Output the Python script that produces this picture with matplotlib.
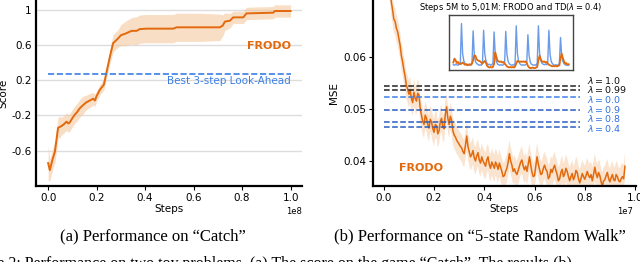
import numpy as np
import matplotlib
matplotlib.use("Agg")
import matplotlib.pyplot as plt

# --- datos panel (a): Catch ---
catch_steps = [0, 0.007, 0.018, 0.028, 0.041, 0.048, 0.055, 0.065, 0.076, 0.083,
               0.089, 0.1, 0.11, 0.12, 0.13, 0.145, 0.158, 0.172, 0.186, 0.193,
               0.2, 0.213, 0.23, 0.24, 0.255, 0.268, 0.289, 0.30, 0.32, 0.344,
               0.365, 0.378, 0.406, 0.46, 0.516, 0.53, 0.626, 0.708, 0.72, 0.729,
               0.75, 0.763, 0.805, 0.818, 0.928, 0.935, 1.0]
catch_score = [-0.74, -0.82, -0.70, -0.61, -0.34, -0.33, -0.32, -0.30, -0.27, -0.29,
               -0.28, -0.23, -0.19, -0.16, -0.12, -0.08, -0.05, -0.03, -0.01, -0.03,
               0.02, 0.09, 0.15, 0.28, 0.47, 0.62, 0.675, 0.71, 0.73, 0.76,
               0.76, 0.78, 0.785, 0.785, 0.785, 0.80, 0.80, 0.80, 0.82, 0.865,
               0.875, 0.913, 0.913, 0.958, 0.966, 0.985, 0.985]
catch_spread = [0.2, 0.12, 0.12, 0.12, 0.12, 0.12, 0.1, 0.1, 0.1, 0.1,
                0.1, 0.1, 0.1, 0.1, 0.1, 0.1, 0.08, 0.08, 0.07, 0.07,
                0.06, 0.06, 0.06, 0.06, 0.08, 0.1, 0.1, 0.12, 0.14, 0.15,
                0.16, 0.16, 0.16, 0.16, 0.16, 0.16, 0.16, 0.15, 0.12, 0.1,
                0.08, 0.07, 0.07, 0.07, 0.07, 0.07, 0.07]
lookahead_score = 0.268

# --- datos panel (b): 5-state Random Walk (pasos en unidades de 1e7, cada 0.005) ---
rw_mse = [0.0880, 0.0850, 0.0820, 0.0790, 0.0760, 0.0730, 0.0705, 0.0690, 0.0672, 0.0668,
          0.0655, 0.0648, 0.0635, 0.0622, 0.0602, 0.0590, 0.0575, 0.0562, 0.0545, 0.0538,
          0.0528, 0.0536, 0.0520, 0.0512, 0.0532, 0.0520, 0.0515, 0.0530, 0.0527, 0.0500,
          0.0488, 0.0476, 0.0470, 0.0488, 0.0482, 0.0470, 0.0463, 0.0480, 0.0475, 0.0462,
          0.0455, 0.0470, 0.0468, 0.0452, 0.0458, 0.0476, 0.0482, 0.0465, 0.0462, 0.0490,
          0.0504, 0.0482, 0.0470, 0.0486, 0.0478, 0.0458, 0.0450, 0.0446, 0.0440, 0.0436,
          0.0432, 0.0428, 0.0425, 0.0418, 0.0414, 0.0430, 0.0448, 0.0428, 0.0418, 0.0408,
          0.0412, 0.0420, 0.0406, 0.0400, 0.0410, 0.0416, 0.0402, 0.0396, 0.0408, 0.0400,
          0.0395, 0.0390, 0.0402, 0.0408, 0.0393, 0.0386, 0.0398, 0.0392, 0.0386, 0.0398,
          0.0392, 0.0384, 0.0396, 0.0388, 0.0380, 0.0370, 0.0372, 0.0380, 0.0386, 0.0398,
          0.0414, 0.0400, 0.0392, 0.0380, 0.0385, 0.0378, 0.0374, 0.0382, 0.0390, 0.0398,
          0.0402, 0.0390, 0.0383, 0.0390, 0.0380, 0.0394, 0.0408, 0.0392, 0.0378, 0.0370,
          0.0372, 0.0390, 0.0408, 0.0394, 0.0384, 0.0374, 0.0376, 0.0386, 0.0392, 0.0384,
          0.0380, 0.0366, 0.0370, 0.0384, 0.0378, 0.0386, 0.0392, 0.0382, 0.0374, 0.0362,
          0.0366, 0.0378, 0.0384, 0.0370, 0.0375, 0.0386, 0.0380, 0.0370, 0.0362, 0.0370,
          0.0376, 0.0364, 0.0370, 0.0382, 0.0378, 0.0366, 0.0358, 0.0366, 0.0376, 0.0370,
          0.0365, 0.0372, 0.0380, 0.0372, 0.0368, 0.0374, 0.0362, 0.0374, 0.0388, 0.0376,
          0.0368, 0.0378, 0.0372, 0.0360, 0.0352, 0.0362, 0.0364, 0.0372, 0.0378, 0.0366,
          0.0360, 0.0368, 0.0374, 0.0364, 0.0362, 0.0374, 0.0370, 0.0362, 0.0360, 0.0366,
          0.0370, 0.0366, 0.0390]
rw_steps = [i * 0.005 for i in range(len(rw_mse))]
rw_spread = 0.0026

td_labels = [r"$\lambda = 1.0$", r"$\lambda = 0.99$", r"$\lambda = 0.0$",
             r"$\lambda = 0.9$", r"$\lambda = 0.8$", r"$\lambda = 0.4$"]
td_mse = [0.0543, 0.0537, 0.05225, 0.04975, 0.04754, 0.04648]
td_colors = ["#222222", "#222222", "#3f80e8", "#2a5cc0", "#2a5cc0", "#2a5cc0"]
td_text_colors = ["#111111", "#111111", "#2f72e0", "#2f72e0", "#2f72e0", "#2f72e0"]
td_label_y = [0.05552, 0.05365, 0.05183, 0.04990, 0.04807, 0.04620]

# --- inset: pasos 5M a 5,01M ---
inset_td = [0.10, 0.09, 0.11, 0.10, 0.09, 0.11, 0.13,
            0.84, 0.30, 0.17, 0.12, 0.10, 0.11, 0.09, 0.10, 0.09, 0.12,
            0.71, 0.28, 0.16, 0.12, 0.11, 0.09, 0.10, 0.09, 0.12,
            0.72, 0.30, 0.17, 0.12, 0.10, 0.11, 0.09, 0.10, 0.13,
            0.69, 0.28, 0.16, 0.11, 0.10, 0.09, 0.10, 0.09, 0.10, 0.12,
            0.70, 0.29, 0.16, 0.12, 0.10, 0.09, 0.10, 0.09, 0.13,
            0.80, 0.30, 0.17, 0.12, 0.10, 0.09, 0.10, 0.09, 0.10, 0.12,
            0.64, 0.27, 0.15, 0.11, 0.10, 0.09, 0.10, 0.09, 0.13,
            0.80, 0.31, 0.18, 0.13, 0.11, 0.10, 0.11, 0.10, 0.13,
            0.72, 0.29, 0.16, 0.12, 0.10, 0.09, 0.10, 0.09, 0.10, 0.12,
            0.59, 0.26, 0.16, 0.12, 0.10, 0.09, 0.10, 0.09]
inset_frodo = [0.14, 0.21, 0.18, 0.13, 0.15, 0.12, 0.11,
               0.12, 0.14, 0.12, 0.10, 0.11, 0.09, 0.10, 0.11,
               0.10, 0.12, 0.18, 0.27, 0.26, 0.20, 0.18, 0.17, 0.16, 0.14, 0.12,
               0.15, 0.17, 0.13, 0.08, 0.06, 0.05, 0.06, 0.05, 0.06,
               0.12, 0.32, 0.24, 0.17, 0.16, 0.15, 0.16, 0.14, 0.15, 0.12,
               0.10, 0.07, 0.06, 0.05, 0.06, 0.05, 0.06, 0.05, 0.07,
               0.12, 0.17, 0.16, 0.15, 0.16, 0.15, 0.16, 0.15, 0.16, 0.13,
               0.08, 0.05, 0.04, 0.04, 0.05, 0.04, 0.04, 0.05, 0.06,
               0.18, 0.26, 0.20, 0.16, 0.15, 0.16, 0.14, 0.15, 0.12,
               0.10, 0.09, 0.08, 0.07, 0.08, 0.07, 0.08, 0.07, 0.08, 0.09,
               0.22, 0.30, 0.22, 0.16, 0.12, 0.13, 0.10, 0.11]

ORANGE = "#e2690c"
BAND = "#f6c8a0"
BLUE = "#3b7ee6"

plt.rcParams["font.family"] = "DejaVu Sans"
fig = plt.figure(figsize=(6.4, 2.62), dpi=100)

# ---------------- panel (a) ----------------
ax1 = fig.add_axes([36 / 640, 76 / 262, 266 / 640, 186 / 262])
x1 = np.array(catch_steps) * 1e8
y1 = np.array(catch_score)
s1 = np.array(catch_spread)
ax1.fill_between(x1, y1 - s1, y1 + s1, color=BAND, alpha=0.6, lw=0)
ax1.plot(x1, y1, color=ORANGE, lw=1.4)
ax1.plot([0, 1e8], [lookahead_score, lookahead_score], ls="--", color=BLUE, lw=1.2)
ax1.text(1e8, 0.59, "FRODO", color=ORANGE, fontsize=8, fontweight="bold",
         ha="right", va="center")
ax1.text(1e8, 0.19, "Best 3-step Look-Ahead", color=BLUE, fontsize=7.5,
         ha="right", va="center")
ax1.set_xlim(-0.05e8, 1.047e8)
ax1.set_ylim(-1.0, 1.11)
ax1.set_yticks([1, 0.6, 0.2, -0.2, -0.6])
ax1.set_yticklabels(["1", "0.6", "0.2", "-0.2", "-0.6"])
ax1.set_xticks([0, 0.2e8, 0.4e8, 0.6e8, 0.8e8, 1.0e8])
ax1.grid(axis="y", color="#dddddd", lw=1)
ax1.set_axisbelow(True)
ax1.tick_params(axis="y", length=0, labelsize=7.5, pad=3)
ax1.tick_params(axis="x", length=3, labelsize=7.5, pad=2)
ax1.xaxis.get_offset_text().set_fontsize(6)
ax1.set_xlabel("Steps", fontsize=7.5, labelpad=1)
ax1.set_ylabel("Score", fontsize=7.5, labelpad=2)
for side in ["top", "right"]:
    ax1.spines[side].set_visible(False)
for side in ["left", "bottom"]:
    ax1.spines[side].set_linewidth(1.6)

# ---------------- panel (b) ----------------
ax2 = fig.add_axes([373 / 640, 76 / 262, 263 / 640, 186 / 262])
x2 = np.array(rw_steps) * 1e7
y2 = np.array(rw_mse)
ax2.fill_between(x2, y2 - rw_spread, y2 + rw_spread, color=BAND, alpha=0.5, lw=0)
ax2.plot(x2, y2, color=ORANGE, lw=1.1)
for val, col in zip(td_mse, td_colors):
    ax2.plot([0, 0.78e7], [val, val], ls="--", color=col, lw=1.1)
for lab, ly, col in zip(td_labels, td_label_y, td_text_colors):
    ax2.text(0.81e7, ly, lab, color=col, fontsize=6.8, ha="left", va="center")
ax2.text(0.15e7, 0.0386, "FRODO", color=ORANGE, fontsize=8, fontweight="bold",
         ha="center", va="center")
ax2.set_xlim(-0.043e7, 1.004e7)
ax2.set_ylim(0.0352, 0.0709)
ax2.set_yticks([0.04, 0.05, 0.06])
ax2.set_xticks([0, 0.2e7, 0.4e7, 0.6e7, 0.8e7, 1.0e7])
ax2.tick_params(axis="both", length=3, labelsize=7.5, pad=2)
ax2.xaxis.get_offset_text().set_fontsize(6)
ax2.xaxis.get_offset_text().set_x(0.99)
ax2.set_xlabel("Steps", fontsize=7.5, labelpad=1)
ax2.set_ylabel("MSE", fontsize=7.5, labelpad=3)
for side in ["top", "right"]:
    ax2.spines[side].set_visible(False)
for side in ["left", "bottom"]:
    ax2.spines[side].set_linewidth(1.6)

# ---------------- inset ----------------
axi = fig.add_axes([449 / 640, (262 - 70.3) / 262, 124 / 640, 55.6 / 262])
xi = np.arange(len(inset_td))
axi.plot(xi, inset_td, color="#6a9be8", lw=1.0)
axi.plot(xi, inset_frodo, color=ORANGE, lw=1.3)
axi.set_xlim(-3.7, 102.7)
axi.set_ylim(0, 1)
axi.set_xticks([])
axi.set_yticks([])
for sp in axi.spines.values():
    sp.set_color("#444444")
    sp.set_linewidth(1.0)
fig.text(511 / 640, 1 - 8 / 262, r"Steps 5M to 5,01M: FRODO and TD($\lambda = 0.4$)",
         fontsize=6, ha="center", va="center")

# ---------------- captions ----------------
fig.text(153 / 640, 1 - 236 / 262, "(a) Performance on \u201cCatch\u201d",
         family="Liberation Serif", fontsize=12, ha="center", va="center")
fig.text(480 / 640, 1 - 236 / 262, "(b) Performance on \u201c5-state Random Walk\u201d",
         family="Liberation Serif", fontsize=12, ha="center", va="center")
fig.text(-8 / 640, 1 - 256 / 262,
         "re 2: Performance on two toy problems. (a) The score on the game \u201cCatch\u201d. The results (b)",
         family="Liberation Serif", fontsize=11.5, ha="left", va="top")

fig.savefig("out.png", dpi=100)
